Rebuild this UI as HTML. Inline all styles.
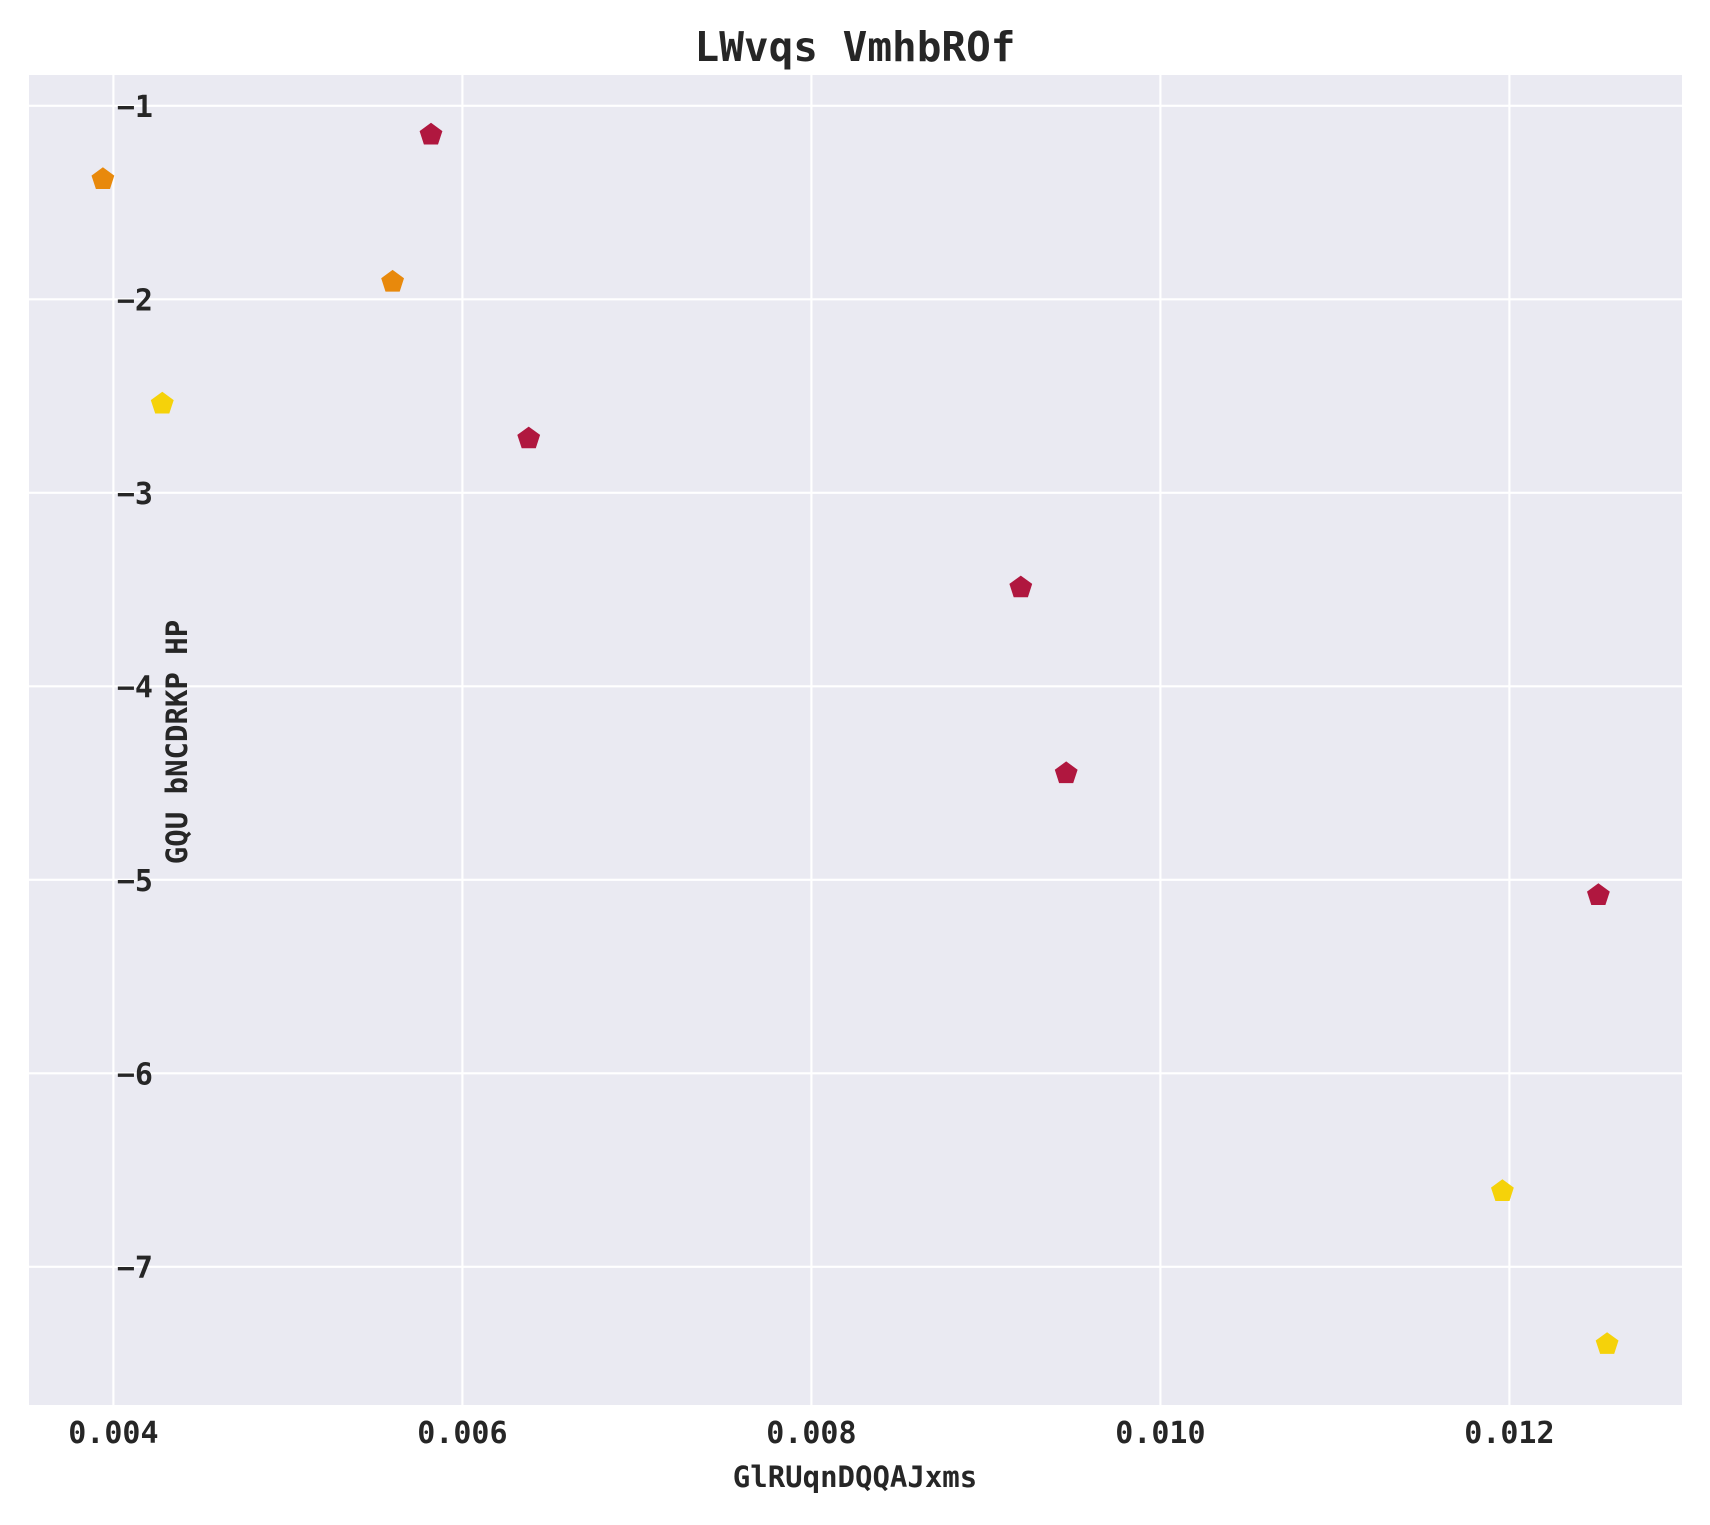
<!DOCTYPE html>
<html><head><meta charset="utf-8"><style>
body{margin:0;background:#fff}
svg text{font-family:"DejaVu Sans Mono","Liberation Mono",monospace;font-weight:bold;fill:#262626}
</style></head><body>
<svg id="chart" width="1710" height="1520" xmlns="http://www.w3.org/2000/svg">
<rect x="29" y="75" width="1653" height="1330" fill="#eaeaf2"/>
<g id="grid"></g>
<g id="ticks"></g>
<g id="marks"></g>
<text x="855" y="61" text-anchor="middle" font-size="41">LWvqs VmhbROf</text>
<text x="855" y="1487" text-anchor="middle" font-size="29">GlRUqnDQQAJxms</text>
<text x="0" y="0" transform="translate(187,742) rotate(-90)" text-anchor="middle" font-size="29">GQU bNCDRKP HP</text>
</svg>
<script>
const xTicks=[0.004,0.006,0.008,0.010,0.012];
const xTickLabels=["0.004","0.006","0.008","0.010","0.012"];
const yTicks=[-1,-2,-3,-4,-5,-6,-7];
const yTickLabels=["\u22121","\u22122","\u22123","\u22124","\u22125","\u22126","\u22127"];
const orangeX=[0.00394,0.0056];
const orangeY=[-1.38,-1.91];
const yellowX=[0.00428,0.01196,0.01256];
const yellowY=[-2.54,-6.61,-7.40];
const redX=[0.00582,0.00638,0.00920,0.00946,0.01251];
const redY=[-1.15,-2.72,-3.49,-4.45,-5.08];
const ns="http://www.w3.org/2000/svg";
function xs(v){return 113.4+(v-0.004)*174500;}
function ys(v){return 105.8+(-1-v)*193.5;}
function mk(t,a){const e=document.createElementNS(ns,t);for(const k in a)e.setAttribute(k,a[k]);return e;}
const grid=document.getElementById('grid'),ticks=document.getElementById('ticks'),marks=document.getElementById('marks');
xTicks.forEach((v,i)=>{
 const l=mk('line',{x1:xs(v),x2:xs(v),y1:75,y2:1405,stroke:'#fff','stroke-width':2.2});
 
 
 grid.appendChild(l);
 const t=mk('text',{x:xs(v),y:1443,'text-anchor':'middle','font-size':30});
 t.textContent=xTickLabels[i];
 
 
 ticks.appendChild(t);
});
yTicks.forEach((v,i)=>{
 const l=mk('line',{x1:29,x2:1682,y1:ys(v),y2:ys(v),stroke:'#fff','stroke-width':2.2});
 
 
 grid.appendChild(l);
 const t=mk('text',{x:153,y:ys(v)+11,'text-anchor':'end','font-size':30});
 t.textContent=yTickLabels[i];
 
 
 ticks.appendChild(t);
});
function pent(cx,cy,r){let p=[];for(let k=0;k<5;k++){const a=-Math.PI/2+k*2*Math.PI/5;p.push((cx+r*Math.cos(a)).toFixed(1)+','+(cy+r*Math.sin(a)).toFixed(1));}return p.join(' ');}
function series(X,Y,color,name){
 X.forEach((x,i)=>{
  const p=mk('polygon',{points:pent(xs(x),ys(Y[i]),12),fill:color});
  
  
  marks.appendChild(p);
 });
}
series(orangeX,orangeY,'#e8890c','orange-point');
series(yellowX,yellowY,'#f5d20a','yellow-point');
series(redX,redY,'#b0173f','red-point');
</script>
</body></html>
